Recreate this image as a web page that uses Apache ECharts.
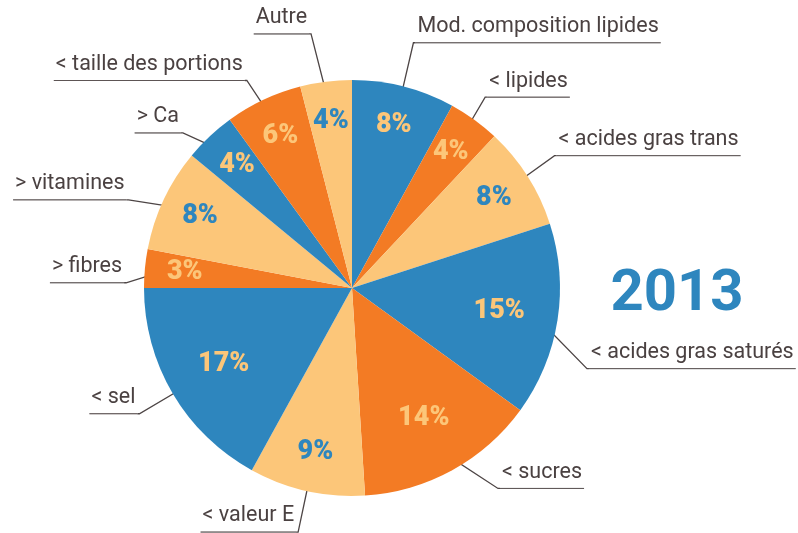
<!DOCTYPE html>
<html>
<head>
<meta charset="utf-8">
<script src="https://cdn.jsdelivr.net/npm/echarts@6/dist/echarts.min.js"></script>
<style>
  html, body { margin: 0; padding: 0; background: #fff; }
  #container { width: 798px; height: 533px; }
</style>
</head>
<body>
<div id="container"></div>
<script>
// données du graphique (parts en %)
var categories = ['Mod. composition lipides', '< lipides', '< acides gras trans', '< acides gras saturés',
  '< sucres', '< valeur E', '< sel', '> fibres', '> vitamines', '> Ca', '< taille des portions', 'Autre'];
var values = [8, 4, 8, 15, 14, 9, 17, 3, 8, 4, 6, 4];
var year = '2013';

var blue = '#2e86be', orange = '#f37b24', light = '#fcc679';
var textColor = '#4a4141';
var lineColor = '#4d4545';
var center = [352, 288];
var R = 208;

// petits décalages des étiquettes (les traits ne sont pas tout à fait radiaux)
var nudge = [[0, -6], [-12, 9], [-6, 0], [-9, 42], [27, -16], [0, 3],
  [0, 0], [20, 18], [0, 17], [0, 25], [0, 16], [-10, -9]];

var dom = document.getElementById('container');
var myChart = echarts.init(dom);

// étiquettes % : claires sur bleu/orange, bleues sur le jaune pâle
// les grandes parts ont leur % un peu plus près du centre
function pctData(big) {
  return categories.map(function (name, i) {
    return {
      name: name,
      value: values[i],
      label: { show: (values[i] >= 12) === big, color: i % 3 === 2 ? blue : light }
    };
  });
}
var baseData = categories.map(function (name, i) {
  return { name: name, value: values[i] };
});

var pctLabel = {
  position: 'inside',
  formatter: '{c}%',
  fontFamily: 'Roboto',
  fontWeight: 900,
  fontSize: 27
};

var option = {
  color: [blue, orange, light],
  animation: false,
  graphic: [{
    type: 'text',
    x: 677,
    y: 295,
    style: {
      text: year,
      fill: blue,
      font: 'bold 58px Roboto',
      textAlign: 'center',
      textVerticalAlign: 'middle'
    }
  }],
  series: [
    {
      // le camembert
      type: 'pie',
      center: center,
      radius: R,
      startAngle: 90,
      silent: true,
      label: { show: false },
      labelLine: { show: false },
      data: baseData
    },
    {
      type: 'pie',
      center: center,
      radius: [130, 200],
      startAngle: 90,
      silent: true,
      itemStyle: { color: 'transparent' },
      label: pctLabel,
      labelLine: { show: false },
      data: pctData(false)
    },
    {
      type: 'pie',
      center: center,
      radius: [110, 182],
      startAngle: 90,
      silent: true,
      itemStyle: { color: 'transparent' },
      label: pctLabel,
      labelLine: { show: false },
      data: pctData(true)
    },
    {
      // noms + traits de rappel
      type: 'pie',
      center: center,
      radius: 187,
      startAngle: 90,
      silent: true,
      avoidLabelOverlap: false,
      itemStyle: { color: 'transparent' },
      label: {
        position: 'outside',
        distanceToLabelLine: 0,
        bleedMargin: 0,
        formatter: '{t|{b}}\n{hr|}\n{s|}',
        rich: {
          t: { fontFamily: 'Roboto', fontSize: 21.5, color: textColor, lineHeight: 32, padding: [0, 2, 0, 2] },
          hr: { borderColor: lineColor, width: '100%', borderWidth: 0.7, height: 0 },
          s: { height: 32 }
        }
      },
      labelLine: {
        show: true,
        length: 60,
        length2: 2,
        lineStyle: { color: lineColor, width: 1.3 }
      },
      labelLayout: function (params) {
        var pts = params.labelLinePoints;
        if (!pts) return { hideOverlap: false };
        var d = nudge[params.dataIndex];
        var p1 = [pts[1][0] + d[0], pts[1][1] + d[1]];
        var p2 = [pts[2][0] + d[0], pts[2][1] + d[1]];
        return { x: p2[0], y: p2[1], labelLinePoints: [pts[0], p1, p2], hideOverlap: false };
      },
      data: baseData
    }
  ]
};
myChart.setOption(option);
</script>
</body>
</html>
